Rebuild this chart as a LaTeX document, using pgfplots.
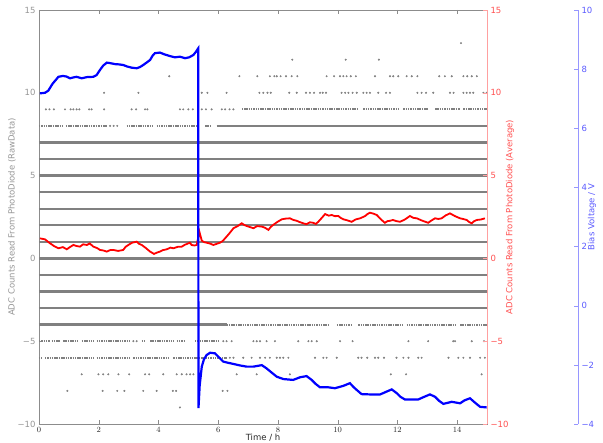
\documentclass[border=0pt]{standalone}
\usepackage{pgfplots}
\pgfplotsset{compat=1.18}
\usepackage{fontspec}
\setmainfont{DejaVu Sans}
\definecolor{rawgray}{RGB}{128,128,128}
\definecolor{spinegray}{RGB}{140,140,140}
\definecolor{labgray}{RGB}{150,150,150}
\definecolor{avgred}{RGB}{255,0,0}
\definecolor{redlab}{RGB}{255,80,80}
\definecolor{redspine}{RGB}{255,160,160}
\definecolor{biasblue}{RGB}{0,0,255}
\definecolor{bluelab}{RGB}{90,90,255}
\definecolor{bluespine}{RGB}{150,150,255}
\pgfplotsset{
  rowsolid/.style={draw=rawgray, line width=2.4pt, unbounded coords=jump, forget plot},
  rowdense/.style={draw=rawgray, line width=1.8pt, dash pattern=on 1.5pt off 0.8pt, unbounded coords=jump, forget plot},
  rawdots/.style={only marks, mark=*, mark size=0.8pt, color=rawgray, forget plot},
}
\begin{document}
\begin{tikzpicture}
\useasboundingbox (-39pt,-19pt) rectangle (564pt,424pt);
% ---------------- main axis: raw data ----------------
\begin{axis}[
  scale only axis, width=448pt, height=414pt,
  xmin=0, xmax=15, ymin=-10, ymax=15,
  axis line style={spinegray},
  xtick={0,2,4,6,8,10,12,14},
  ytick={-10,-5,0,5,10,15},
  yticklabels={−10,−5,0,5,10,15},
  xtick pos=both, ytick pos=left,
  tick align=inside, major tick length=4pt,
  tick style={spinegray},
  tick label style={font=\fontsize{8.5}{9.5}\selectfont},
  y tick label style={labgray},
  x tick label style={black!85},
  xlabel={Time / h},
  ylabel={ADC Counts Read From PhotoDiode (RawData)},
  label style={font=\fontsize{8.5}{9.5}\selectfont},
  ylabel style={labgray, at={(axis description cs:-0.0603,0.5)}, anchor=center},
  xlabel style={black!85, at={(axis description cs:0.5,-0.034)}, anchor=center},
  clip=false,
]
% fully dense rows
\addplot[rowsolid] coordinates {
 (0,7) (15,7) (nan,nan)
 (0,6) (15,6) (nan,nan)
 (0,5) (15,5) (nan,nan)
 (0,4) (15,4) (nan,nan)
 (0,3) (15,3) (nan,nan)
 (0,2) (15,2) (nan,nan)
 (0,1) (15,1) (nan,nan)
 (0,0) (15,0) (nan,nan)
 (0,-1) (15,-1) (nan,nan)
 (0,-2) (15,-2) (nan,nan)
 (0,-3) (15,-3) (nan,nan)
 (5.95,8) (15,8) (nan,nan)
 (0,-4) (6.28,-4)
};
% partially dense rows
\addplot[rowdense] coordinates {
 (0,8) (0.81,8) (nan,nan) (0.90,8) (1.37,8) (nan,nan) (1.43,8) (1.93,8) (nan,nan)
 (1.99,8) (2.27,8) (nan,nan) (2.93,8) (3.83,8) (nan,nan) (3.94,8) (5.33,8) (nan,nan)
 (5.56,8) (5.78,8) (nan,nan)
 (6.79,9) (10.69,9) (nan,nan) (10.86,9) (12.09,9) (nan,nan) (12.20,9) (13.04,9) (nan,nan)
 (13.26,9) (14.10,9) (nan,nan) (14.21,9) (15,9) (nan,nan)
 (6.28,-4) (9.74,-4) (nan,nan) (9.97,-4) (10.47,-4) (nan,nan) (10.69,-4) (12.20,-4) (nan,nan)
 (12.31,-4) (13.98,-4) (nan,nan) (14.10,-4) (15,-4) (nan,nan)
 (0,-5) (0.37,-5) (nan,nan) (0.42,-5) (0.70,-5) (nan,nan) (0.81,-5) (1.32,-5) (nan,nan)
 (1.43,-5) (1.82,-5) (nan,nan) (1.93,-5) (3.05,-5) (nan,nan) (3.44,-5) (3.55,-5) (nan,nan)
 (3.72,-5) (4.50,-5) (nan,nan) (4.61,-5) (4.89,-5) (nan,nan) (5.22,-5) (6.06,-5) (nan,nan)
 (0,-6) (0.10,-6) (nan,nan) (0.20,-6) (1.82,-6) (nan,nan) (1.93,-6) (3.05,-6) (nan,nan)
 (3.16,-6) (4.39,-6) (nan,nan) (4.50,-6) (6.28,-6)
};
% sparse points
\addplot[rawdots] coordinates {
 (14.13,13)
 (8.48,12) (10.27,12) (11.38,12)
 (4.36,11) (6.71,11) (7.31,11) (7.73,11) (7.88,11) (7.96,11) (8.09,11) (8.27,11) (8.46,11) (8.65,11)
 (9.63,11) (9.88,11) (10.08,11) (10.19,11) (10.30,11) (10.44,11) (10.61,11) (11.25,11)
 (11.75,11) (11.86,11) (12.03,11) (12.31,11) (12.48,11) (12.67,11) (13.40,11) (13.59,11) (13.82,11)
 (14.21,11) (14.34,11) (14.49,11) (14.66,11)
 (2.18,10) (3.33,10) (5.45,10) (5.64,10) (6.28,10) (7.38,10) (7.51,10) (7.65,10) (7.76,10)
 (8.38,10) (8.63,10) (8.94,10) (9.07,10) (9.21,10) (9.41,10) (9.50,10) (9.61,10)
 (10.13,10) (10.25,10) (10.36,10) (10.50,10) (10.64,10) (10.86,10) (10.97,10) (11.08,10)
 (11.36,10) (11.62,10) (11.75,10) (12.67,10) (12.81,10) (12.96,10) (13.20,10) (13.76,10)
 (13.88,10) (14.21,10) (14.32,10) (14.43,10) (14.54,10) (14.88,10) (14.99,10)
 (0.23,9) (0.35,9) (0.50,9) (0.87,9) (1.06,9) (1.15,9) (1.26,9) (1.35,9) (1.68,9) (1.76,9)
 (2.18,9) (3.10,9) (3.25,9) (3.55,9) (3.63,9) (4.72,9) (4.83,9) (5.00,9) (5.15,9) (5.45,9)
 (5.59,9) (5.78,9) (6.12,9) (6.23,9) (6.38,9) (6.51,9)
 (2.38,8) (2.50,8) (2.62,8)
 (3.16,-5) (3.27,-5) (6.17,-5) (6.28,-5) (6.45,-5) (7.18,-5) (7.29,-5) (7.40,-5) (7.62,-5)
 (7.90,-5) (8.68,-5) (9.02,-5) (9.13,-5) (9.30,-5) (10.08,-5) (10.50,-5) (12.37,-5)
 (13.03,-5) (13.87,-5) (13.93,-5) (14.49,-5) (14.90,-5)
 (6.39,-6) (6.51,-6) (6.84,-6) (7.12,-6) (7.40,-6) (7.57,-6) (7.73,-6) (7.96,-6) (8.07,-6)
 (8.18,-6) (8.35,-6) (9.24,-6) (9.52,-6) (9.63,-6) (9.97,-6) (10.69,-6) (10.80,-6)
 (10.99,-6) (11.25,-6) (11.36,-6) (11.55,-6) (11.97,-6) (12.20,-6) (12.37,-6) (12.70,-6)
 (12.81,-6) (13.71,-6) (14.04,-6) (14.21,-6) (14.43,-6) (14.77,-6) (14.93,-6)
 (1.43,-7) (1.99,-7) (2.15,-7) (2.32,-7) (2.66,-7) (3.02,-7) (3.55,-7) (3.69,-7) (4.16,-7)
 (4.61,-7) (4.78,-7) (4.94,-7) (5.06,-7) (5.17,-7) (6.62,-7) (7.29,-7) (8.40,-7)
 (11.78,-7) (12.29,-7) (14.82,-7)
 (0.95,-8) (2.13,-8) (2.62,-8) (2.86,-8) (3.49,-8) (3.94,-8) (4.48,-8) (4.59,-8) (6.15,-8) (6.31,-8)
 (4.72,-9)
};
\end{axis}
% ---------------- red axis: average ----------------
\begin{axis}[
  scale only axis, width=448pt, height=414pt,
  xmin=0, xmax=15, ymin=-10, ymax=15,
  axis y line*=right, axis x line=none,
  y axis line style={redspine, line width=1pt},
  ytick={-10,-5,0,5,10,15},
  yticklabels={−10,−5,0,5,10,15},
  tick align=inside, major tick length=4pt,
  tick style={redspine},
  tick label style={font=\fontsize{8.5}{9.5}\selectfont, redlab},
  ylabel={ADC Counts Read From PhotoDiode (Average)},
  ylabel style={font=\fontsize{8.5}{9.5}\selectfont, redlab, at={(axis description cs:1.0513,0.5)}, anchor=center},
]
\addplot[avgred, line width=1.8pt] coordinates {
 (0.03,1.21) (0.20,1.15) (0.37,0.91) (0.50,0.75) (0.65,0.61) (0.80,0.68) (0.93,0.55) (1.05,0.70)
 (1.15,0.81) (1.25,0.75) (1.37,0.71) (1.48,0.85) (1.60,0.81) (1.70,0.90) (1.82,0.71) (1.95,0.62)
 (2.04,0.51) (2.15,0.48) (2.27,0.41) (2.38,0.50) (2.49,0.51) (2.65,0.45) (2.82,0.51) (2.90,0.70)
 (2.99,0.81) (3.12,0.95) (3.27,1.01) (3.35,0.88) (3.44,0.81) (3.58,0.62) (3.72,0.41) (3.85,0.27)
 (3.95,0.35) (4.05,0.41) (4.15,0.50) (4.28,0.55) (4.40,0.65) (4.50,0.61) (4.65,0.70) (4.78,0.71)
 (4.88,0.82) (4.95,0.87) (5.05,0.95) (5.11,0.81) (5.20,0.78) (5.28,0.81) (5.37,1.61)
 (5.45,1.07) (5.53,0.98) (5.61,0.95) (5.72,0.90) (5.84,0.81) (5.95,0.88) (6.06,0.95) (6.15,1.05)
 (6.23,1.21) (6.37,1.50) (6.51,1.82) (6.65,1.95) (6.79,2.12) (6.87,2.02) (6.95,1.96) (7.05,1.90)
 (7.18,1.82) (7.30,1.95) (7.46,1.92) (7.57,1.85) (7.68,1.72) (7.76,1.90) (7.84,2.02) (7.98,2.20)
 (8.13,2.36) (8.25,2.40) (8.40,2.42) (8.52,2.32) (8.63,2.27) (8.72,2.20) (8.80,2.15) (8.88,2.10)
 (8.96,2.07) (9.07,2.18) (9.18,2.15) (9.27,2.08) (9.35,2.21) (9.47,2.45) (9.58,2.68) (9.70,2.58)
 (9.80,2.62) (9.91,2.55) (10.02,2.56) (10.10,2.45) (10.19,2.36) (10.32,2.30) (10.47,2.21)
 (10.60,2.35) (10.75,2.42) (10.85,2.50) (10.92,2.56) (11.00,2.68) (11.08,2.76) (11.20,2.70)
 (11.31,2.62) (11.40,2.45) (11.47,2.32) (11.58,2.15) (11.67,2.25) (11.75,2.27) (11.85,2.32)
 (11.97,2.25) (12.09,2.21) (12.25,2.35) (12.42,2.56) (12.53,2.45) (12.65,2.42) (12.80,2.30)
 (12.92,2.22) (13.03,2.15) (13.15,2.30) (13.26,2.42) (13.37,2.38) (13.48,2.42) (13.62,2.60)
 (13.76,2.72) (13.93,2.55) (14.10,2.42) (14.20,2.38) (14.32,2.32) (14.40,2.20) (14.49,2.12)
 (14.57,2.25) (14.66,2.32) (14.80,2.35) (14.93,2.42)
};
\end{axis}
% ---------------- blue axis: bias voltage ----------------
\begin{axis}[
  scale only axis, width=539pt, height=414pt,
  xmin=0, xmax=18.046875, ymin=-4, ymax=10,
  axis y line*=right, axis x line=none,
  y axis line style={bluespine, line width=1pt},
  ytick={-4,-2,0,2,4,6,8,10},
  yticklabels={−4,−2,0,2,4,6,8,10},
  tick align=inside, major tick length=4pt,
  tick style={bluespine},
  tick label style={font=\fontsize{8.5}{9.5}\selectfont, bluelab},
  ylabel={Bias Voltage / V},
  ylabel style={font=\fontsize{8.5}{9.5}\selectfont, bluelab, at={(axis description cs:1.026,0.5)}, anchor=center},
]
\addplot[biasblue, line width=2.2pt] coordinates {
 (0.03,7.18) (0.20,7.20) (0.31,7.27) (0.45,7.50) (0.65,7.74) (0.80,7.77) (0.92,7.75) (1.04,7.69)
 (1.15,7.72) (1.26,7.74) (1.43,7.69) (1.60,7.73) (1.82,7.74) (1.93,7.80) (2.04,7.97) (2.15,8.12)
 (2.27,8.22) (2.40,8.20) (2.54,8.17) (2.68,8.16) (2.82,8.14) (2.95,8.09) (3.10,8.05) (3.27,8.03)
 (3.38,8.07) (3.49,8.14) (3.60,8.22) (3.72,8.31) (3.80,8.45) (3.88,8.54) (4.05,8.56) (4.20,8.50)
 (4.39,8.44) (4.55,8.40) (4.72,8.42) (4.89,8.37) (5.03,8.40) (5.17,8.48) (5.25,8.58) (5.33,8.70)
 (5.34,-3.46) (5.38,-2.70) (5.45,-2.06) (5.52,-1.82) (5.61,-1.67) (5.73,-1.59) (5.89,-1.61)
 (6.06,-1.78) (6.17,-1.89) (6.33,-1.93) (6.51,-1.97) (6.73,-2.02) (6.95,-2.06) (7.18,-2.06)
 (7.46,-2.01) (7.62,-2.12) (7.80,-2.27) (7.96,-2.40) (8.18,-2.48) (8.51,-2.51) (8.74,-2.42)
 (8.96,-2.38) (9.13,-2.51) (9.27,-2.65) (9.41,-2.76) (9.69,-2.76) (9.91,-2.79) (10.19,-2.71)
 (10.41,-2.62) (10.53,-2.75) (10.64,-2.85) (10.80,-2.99) (11.08,-3.00) (11.42,-3.00)
 (11.65,-2.90) (11.81,-2.83) (11.98,-2.96) (12.10,-3.08) (12.25,-3.17) (12.70,-3.17)
 (12.90,-3.08) (13.09,-3.00) (13.26,-3.08) (13.40,-3.22) (13.54,-3.32) (13.82,-3.25)
 (14.10,-3.30) (14.25,-3.20) (14.43,-3.13) (14.60,-3.28) (14.77,-3.42) (14.99,-3.44)
};
\end{axis}
\end{tikzpicture}
\end{document}
